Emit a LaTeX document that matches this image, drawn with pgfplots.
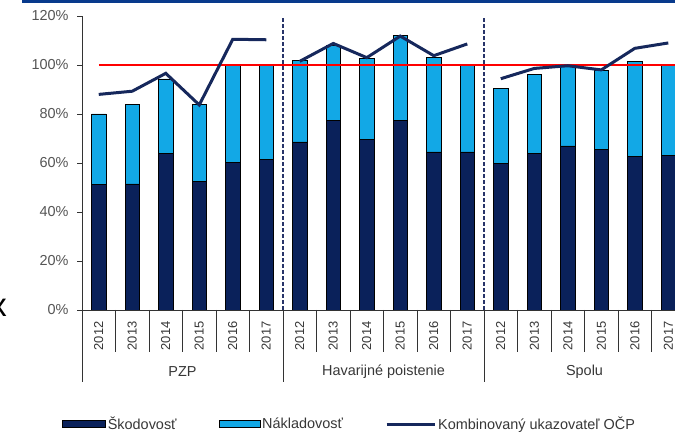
\documentclass[border=0pt]{standalone}
\usepackage{fontspec}
\setmainfont{Liberation Sans}
\usepackage{pgfplots}
\usepackage{pgfplotstable}
\pgfplotsset{compat=1.18}
\definecolor{navy}{RGB}{10,33,90}
\definecolor{lblue}{RGB}{18,168,230}
\definecolor{linenavy}{RGB}{22,40,92}
\definecolor{sepnavy}{RGB}{40,52,105}
\definecolor{band}{RGB}{8,58,140}
\definecolor{tickgray}{RGB}{85,85,85}
\definecolor{txt}{RGB}{55,55,55}

\pgfplotsset{
  barlegA/.style={legend image code/.code={\draw[##1] (0bp,-3.5bp) rectangle (43bp,3.5bp);}},
  barlegB/.style={legend image code/.code={\draw[##1] (0bp,-3.5bp) rectangle (41bp,3.5bp);}},
  linleg/.style={legend image code/.code={\draw[##1] (0bp,0bp) -- (48bp,0bp);}},
}

\pgfplotstableread{
x sk nak
0 51.4 28.6
1 51.5 32.5
2 64.0 30.3
3 52.4 31.6
4 60.4 39.6
5 61.5 38.5
6 68.6 33.2
7 77.5 30.5
8 69.7 33.0
9 77.5 34.5
10 64.5 38.5
11 64.5 35.5
12 59.9 30.6
13 64.0 32.0
14 67.0 32.3
15 65.6 32.2
16 62.6 39.0
17 63.0 37.0
}\bars

\pgfplotstableread{
x komb
0 88.0
1 89.3
2 96.6
3 83.7
4 110.5
5 110.3
5.5 nan
6 101.5
7 108.8
8 103.0
9 111.8
10 103.8
11 108.6
11.5 nan
12 94.4
13 98.6
14 99.7
15 98.0
16 106.8
17 109.0
}\komb

\begin{document}
\begin{tikzpicture}
\useasboundingbox (0,0) rectangle (675bp,433bp);
\clip (0,0) rectangle (675bp,433bp);
\fill[band] (22bp,430bp) rectangle (675bp,433bp);
\node[anchor=base east, font=\fontsize{33}{36}\selectfont, inner sep=0pt] at (7bp,116bp) {x};

\begin{axis}[
  at={(82bp,123bp)}, anchor=south west,
  scale only axis, width=593bp, height=294bp,
  xmin=-0.5, xmax=17.2, ymin=0, ymax=120,
  enlargelimits=false,
  axis lines*=left,
  axis line style={draw=black!80, line width=0.8bp},
  clip mode=individual,
  ybar stacked, bar width=14.5bp,
  tick align=outside, major tick length=5bp,
  ytick={0,20,40,60,80,100,120},
  yticklabels={0\%,20\%,40\%,60\%,80\%,100\%,120\%},
  y tick style={draw=black!80, line width=0.8bp},
  yticklabel style={font=\fontsize{14.5}{17}\selectfont, text=tickgray, xshift=-5bp},
  xtick={0,...,17},
  xticklabels={2012,2013,2014,2015,2016,2017,2012,2013,2014,2015,2016,2017,2012,2013,2014,2015,2016,2017},
  x tick style={draw=none},
  xticklabel shift=3bp,
  xticklabel style={rotate=90, anchor=east, font=\fontsize{13}{15}\selectfont, text=txt},
]
\addplot[fill=navy, draw=black, line width=0.6bp] table[x=x,y=sk]{\bars};
\addplot[fill=lblue, draw=black, line width=0.6bp] table[x=x,y=nak]{\bars};
\pgfplotsinvokeforeach{0.5,1.5,2.5,3.5,4.5,6.5,7.5,8.5,9.5,10.5,12.5,13.5,14.5,15.5,16.5}{
  \draw[black!80, line width=0.8bp] (axis cs:#1,0) -- ++(0bp,-42bp);
}
\pgfplotsinvokeforeach{-0.5,5.5,11.5}{
  \draw[black!80, line width=0.8bp] (axis cs:#1,0) -- ++(0bp,-72bp);
}
\node[font=\fontsize{14.5}{17}\selectfont, text=txt, yshift=-62bp] at (axis cs:2.5,0) {PZP};
\node[font=\fontsize{14.5}{17}\selectfont, text=txt, yshift=-62bp] at (axis cs:8.5,0) {Havarijné poistenie};
\node[font=\fontsize{14.5}{17}\selectfont, text=txt, yshift=-62bp] at (axis cs:14.5,0) {Spolu};
\end{axis}

\begin{axis}[
  at={(82bp,123bp)}, anchor=south west,
  scale only axis, width=593bp, height=294bp,
  xmin=-0.5, xmax=17.2, ymin=0, ymax=120,
  enlargelimits=false,
  hide axis,
  legend columns=3,
  legend style={draw=none, fill=none, inner sep=0pt,
    at={(axis description cs:-0.0337,-0.388)}, anchor=west,
    font=\fontsize{14.5}{17}\selectfont, text=txt,
    /tikz/every even column/.append style={column sep=40bp}},
]
\draw[sepnavy, line width=2bp, dash pattern=on 4bp off 2bp] (axis cs:5.5,0) -- (axis cs:5.5,120);
\draw[sepnavy, line width=2bp, dash pattern=on 4bp off 2bp] (axis cs:11.5,0) -- (axis cs:11.5,120);
\addplot[red, line width=2.2bp, forget plot] coordinates {(0,100) (17.2,100)};
\addlegendimage{fill=navy, draw=black, line width=0.6bp, barlegA}
\addlegendentry{Škodovosť}
\addlegendimage{fill=lblue, draw=black, line width=0.6bp, barlegB}
\addlegendentry{Nákladovosť}
\addplot[linenavy, line width=3bp, unbounded coords=jump, mark=none, linleg] table[x=x,y=komb]{\komb};
\addlegendentry{Kombinovaný ukazovateľ OČP}
\end{axis}
\end{tikzpicture}
\end{document}
